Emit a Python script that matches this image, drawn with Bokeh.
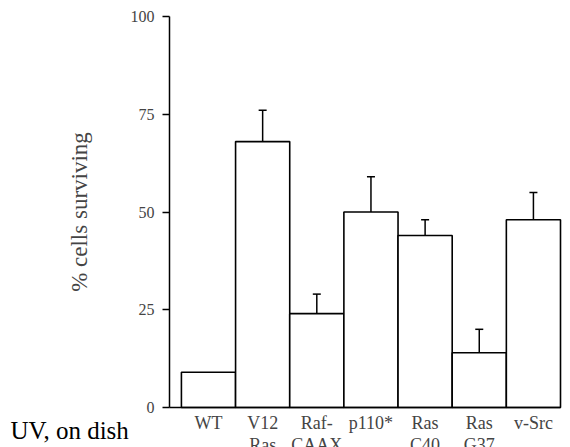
from bokeh.plotting import figure
from bokeh.models import ColumnDataSource, Whisker, TeeHead, FixedTicker, Label
from bokeh.embed import file_html
from bokeh.resources import INLINE

# ---- data ----
categories = ["WT", "V12\nRas", "Raf-\nCAAX", "p110*", "Ras\nC40", "Ras\nG37", "v-Src"]
survival = [9, 68, 24, 50, 44, 14, 48]
errors = [0, 8, 5, 9, 4, 6, 7]
y_ticks = [0, 25, 50, 75, 100]
row_title = "UV, on dish"

FONT = "Liberation Serif"
idx = list(range(len(categories)))

src = ColumnDataSource(dict(x=idx, top=survival))
err_x = [i for i, e in zip(idx, errors) if e > 0]
err_lo = [s for s, e in zip(survival, errors) if e > 0]
err_hi = [s + e for s, e in zip(survival, errors) if e > 0]
esrc = ColumnDataSource(dict(x=err_x, lower=err_lo, upper=err_hi))

# layout (pixels): plot area left/right/top/bottom inside a 570x447 canvas
W, H = 570, 447
AX_L, AX_R, AX_T, AX_B = 169, 560, 16, 407
X0, X1 = -0.72, len(idx) - 0.5
Y0, Y1 = 0, 100
ppu = (AX_R - AX_L) / (X1 - X0)
ppy = (AX_B - AX_T) / (Y1 - Y0)

p = figure(width=W, height=H, output_backend="svg", toolbar_location=None,
           x_range=(X0 - AX_L / ppu, X1 + (W - AX_R) / ppu),
           y_range=(Y0 - (H - AX_B) / ppy, Y1 + AX_T / ppy),
           min_border=0)
p.outline_line_color = None
p.grid.visible = False
p.background_fill_color = "white"

p.vbar(x="x", top="top", bottom=0, width=1.0, source=src,
       fill_color="white", line_color="black", line_width=1.6)

w = Whisker(base="x", lower="lower", upper="upper", source=esrc, dimension="height",
            line_color="black", line_width=1.5,
            upper_head=TeeHead(size=8, line_color="black", line_width=1.5), lower_head=None)
p.add_layout(w)

# y axis, pinned at the left end of the bars' x range
ya = p.yaxis[0]
ya.fixed_location = X0
ya.bounds = (Y0, Y1)
ya.ticker = FixedTicker(ticks=y_ticks)
ya.minor_tick_line_color = None
ya.major_tick_in = 0
ya.major_tick_out = 7
ya.major_tick_line_width = 1.3
ya.axis_line_width = 1.5
ya.major_label_text_font = FONT
ya.major_label_text_font_size = "16px"
ya.major_label_standoff = 8
ya.axis_label = "% cells surviving"
ya.axis_label_text_font = FONT
ya.axis_label_text_font_style = "normal"
ya.axis_label_text_font_size = "23px"
ya.axis_label_standoff = 36

# x axis, pinned at y = 0
xa = p.xaxis[0]
xa.fixed_location = Y0
xa.bounds = (X0, X1)
xa.ticker = FixedTicker(ticks=idx)
xa.major_label_overrides = {i: c for i, c in zip(idx, categories)}
xa.major_tick_line_color = None
xa.major_tick_in = 0
xa.major_tick_out = 0
xa.minor_tick_line_color = None
xa.major_label_text_font = FONT
xa.major_label_text_font_size = "18px"
xa.major_label_text_line_height = 1.1
xa.major_label_standoff = 5
xa.axis_line_width = 1.5

uv = Label(x=10, y=17, x_units="screen", y_units="screen", text=row_title,
           text_font=FONT, text_font_size="25px", text_baseline="alphabetic",
           text_color="black")
p.add_layout(uv)

open("out.html", "w").write(file_html(p, INLINE))
